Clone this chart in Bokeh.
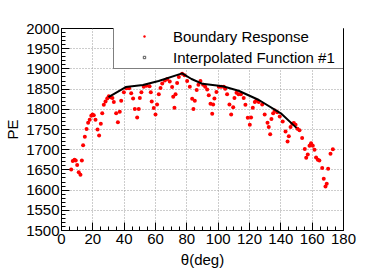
from bokeh.plotting import figure
from bokeh.models import ColumnDataSource, Legend, LegendItem, SingleIntervalTicker, Range1d
from bokeh.embed import file_html
from bokeh.resources import INLINE

# Boundary response points (theta in degrees, PE)
theta = [6.2, 7.2, 8.3, 9.1, 10.0, 11.0, 12.1, 13.0, 13.8, 14.9, 16.0, 17.0, 18.0, 19.0, 19.8,
         20.6, 21.7, 23.0, 24.0, 25.1, 26.0, 27.0, 28.1, 29.2, 30.2, 31.3, 32.5, 33.4, 34.9,
         36.0, 37.2, 38.1, 39.8, 41.5, 43.2, 44.5, 45.7, 46.8, 48.3, 49.3, 50.0, 51.0, 52.5,
         54.2, 56.2, 57.0, 57.6, 58.9, 60.0, 61.0, 62.1, 63.2, 64.3, 66.0, 67.5, 69.1, 70.6,
         71.3, 72.1, 72.8, 73.8, 74.9, 77.0, 78.5, 80.2, 81.9, 83.4, 84.2, 85.1, 86.3, 87.4,
         88.7, 90.4, 91.7, 93.0, 94.0, 95.1, 96.2, 96.8, 97.6, 98.9, 100.4, 101.9, 103.6,
         104.5, 105.7, 107.2, 108.3, 109.6, 110.4, 111.7, 113.0, 114.5, 116.3, 117.4, 118.9,
         120.2, 121.0, 122.1, 123.4, 124.4, 125.9, 128.1, 129.7, 131.5, 132.3, 133.2, 134.0,
         135.1, 136.1, 137.7, 139.3, 141.2, 143.0, 144.3, 145.1, 146.2, 147.3, 148.3, 149.4,
         150.6, 151.9, 153.6, 155.3, 156.2, 157.2, 158.3, 159.3, 160.4, 161.5, 162.5, 163.6,
         164.6, 166.4, 167.4, 168.5, 169.3, 170.2, 171.7, 173.2]
pe = [1651, 1672, 1675, 1673, 1662, 1644, 1638, 1673, 1711, 1732, 1751, 1767, 1774, 1784, 1787,
      1785, 1774, 1750, 1735, 1764, 1790, 1811, 1819, 1827, 1832, 1830, 1828, 1818, 1790,
      1768, 1794, 1821, 1842, 1852, 1852, 1840, 1827, 1801, 1780, 1801, 1828, 1842, 1856,
      1858, 1857, 1842, 1819, 1803, 1787, 1812, 1837, 1853, 1864, 1871, 1875, 1869, 1855,
      1831, 1804, 1837, 1865, 1880, 1888, 1884, 1870, 1856, 1826, 1801, 1821, 1848, 1861,
      1870, 1861, 1856, 1849, 1835, 1814, 1789, 1812, 1827, 1843, 1856, 1856, 1856,
      1851, 1837, 1812, 1787, 1805, 1828, 1841, 1837, 1837, 1828, 1811, 1779,
      1762, 1780, 1804, 1818, 1822, 1818, 1812, 1787, 1767, 1756, 1738, 1776,
      1790, 1797, 1793, 1782, 1770, 1745, 1720, 1733, 1756, 1764, 1766, 1762,
      1752, 1748, 1729, 1702, 1680, 1688, 1710, 1716, 1710, 1700, 1681, 1675,
      1673, 1655, 1628, 1609, 1616, 1653, 1690, 1701]

# Interpolated function #1
f_theta = [30, 41, 52, 62, 77, 83, 90, 103, 113, 126, 140, 150]
f_pe = [1830, 1855, 1860, 1870, 1889, 1875, 1863, 1857, 1846, 1823, 1790, 1754]

x_ticks_interval = 20
y_ticks_interval = 50

FONT = "Liberation Sans"

p = figure(width=382, height=275, output_backend="svg", toolbar_location=None,
           x_range=Range1d(0, 180), y_range=Range1d(1500, 2000),
           min_border_left=61, min_border_right=39, min_border_top=28, min_border_bottom=45,
           background_fill_color="white", border_fill_color="white")

p.outline_line_color = "black"
p.outline_line_width = 1

p.xaxis.ticker = SingleIntervalTicker(interval=x_ticks_interval, num_minor_ticks=4)
p.yaxis.ticker = SingleIntervalTicker(interval=y_ticks_interval, num_minor_ticks=5)
p.xgrid.ticker = p.xaxis.ticker
p.ygrid.ticker = p.yaxis.ticker

for ax in (p.xaxis, p.yaxis):
    ax.major_tick_in = 8
    ax.major_tick_out = 0
    ax.minor_tick_in = 4
    ax.minor_tick_out = 0
    ax.axis_line_color = "black"
    ax.major_tick_line_color = "black"
    ax.minor_tick_line_color = "black"
    ax.major_label_text_font = FONT
    ax.major_label_text_font_size = "15px"
    ax.major_label_text_color = "black"
    ax.axis_label_text_font = FONT
    ax.axis_label_text_font_size = "15px"
    ax.axis_label_text_font_style = "normal"
    ax.axis_label_text_color = "black"
    ax.major_label_standoff = 3
    ax.axis_label_standoff = 4

p.yaxis.major_label_standoff = 2
p.yaxis.axis_label_standoff = 2

p.xaxis.axis_label = "θ(deg)"
p.yaxis.axis_label = "PE"

for g in (p.xgrid, p.ygrid):
    g.grid_line_color = "#9a9a9a"
    g.grid_line_dash = "1 2"
    g.grid_line_width = 1

src = ColumnDataSource(dict(x=theta, y=pe))
r_pts = p.scatter("x", "y", source=src, marker="circle", size=4,
                  fill_color="#ff0000", line_color=None)

fsrc = ColumnDataSource(dict(x=f_theta, y=f_pe))
r_line = p.line("x", "y", source=fsrc, line_color="black", line_width=2)

# open gray square markers of the function (size 0 on the plot, shown in the legend)
r_sq = p.scatter("x", "y", source=fsrc, marker="square", size=0,
                 fill_color="white", line_color="#555555", line_width=1)

legend = Legend(items=[LegendItem(label="Boundary Response", renderers=[r_pts]),
                       LegendItem(label="Interpolated Function #1", renderers=[r_sq])],
                location=(52, 161), orientation="vertical",
                padding=2, margin=0, spacing=3,
                glyph_width=56, glyph_height=6, label_standoff=1,
                label_width=168, label_height=18,
                label_text_font=FONT, label_text_font_size="15px",
                label_text_color="black",
                border_line_color="black", border_line_width=1,
                background_fill_color="white", background_fill_alpha=1.0)
p.add_layout(legend, "center")

open("out.html", "w").write(file_html(p, INLINE))
